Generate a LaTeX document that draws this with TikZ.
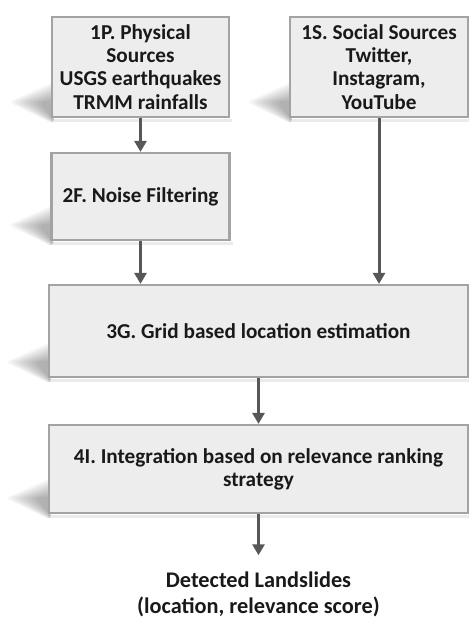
\documentclass[tikz,border=0pt]{standalone}
\usepackage{fontspec}
\setmainfont{Carlito}
\usetikzlibrary{positioning}
\usetikzlibrary{calc}
\usetikzlibrary{arrows.meta}

\pgfdeclarelayer{background}
\pgfsetlayers{background,main}

\begin{document}
\begin{tikzpicture}[x=1bp, y=-1bp,
    every node/.style={font=\bfseries\fontsize{21.3}{23.3}\selectfont, text=black!90, align=center},
    stagebox/.style={draw=black!36, line width=2.2bp, fill=black!7, inner sep=0pt},
    flowarrow/.style={draw=black!66, line width=3bp, -{Triangle[width=12bp,length=11bp]}}]
        \useasboundingbox (0,0) rectangle (469,619);

        \node[stagebox, minimum width=177bp, minimum height=100bp] (1P) at (140.5, 67) {1P. Physical\\Sources\\USGS earthquakes\\TRMM rainfalls};

        \node[stagebox, minimum width=178bp, minimum height=100bp] (1S) at (379, 67) {1S. Social Sources\\Twitter,\\Instagram,\\YouTube};

        \node[stagebox, minimum width=178bp, minimum height=87bp] (2F) at (140.5, 196.5) {2F. Noise Filtering};

        \node[stagebox, minimum width=419bp, minimum height=92bp] (3G) at (258.5, 331) {3G. Grid based location estimation};

        \node[stagebox, minimum width=419bp, minimum height=88bp] (4I) at (258.5, 469) {4I. Integration based on relevance ranking\\strategy};

        \node[font=\bfseries\fontsize{22.4}{26.5}\selectfont] (out) at (258.5, 594.5) {Detected Landslides\\(location, relevance score)};

        \draw[flowarrow] (1P) -- (2F);
        \draw[flowarrow] (2F.south) -- (2F.south |- 3G.north);
        \draw[flowarrow] (1S.south) -- (1S.south |- 3G.north);
        \draw[flowarrow] (3G) -- (4I);
        \draw[flowarrow, shorten >=13bp] (4I.south) -- (out.north);

        % soft shadows to the lower left of the boxes
        \begin{pgfonlayer}{background}
          \foreach \b in {1P,1S,2F,3G,4I} {
            \foreach \s in {1,0.9,...,0.1}
              \fill[black, opacity=0.04, rounded corners=4bp] ($(\b.south west)+(3,-14-22*\s)$) -- ($(\b.south west)+(-4-38*\s,-16)$) -- ($(\b.south west)+(3,1+5*\s)$) -- cycle;
            \fill[black, opacity=0.08] ($(\b.south west)+(0,1)$) rectangle ($(\b.south east)+(2,4)$);
          }
        \end{pgfonlayer}
      \end{tikzpicture}
\end{document}
